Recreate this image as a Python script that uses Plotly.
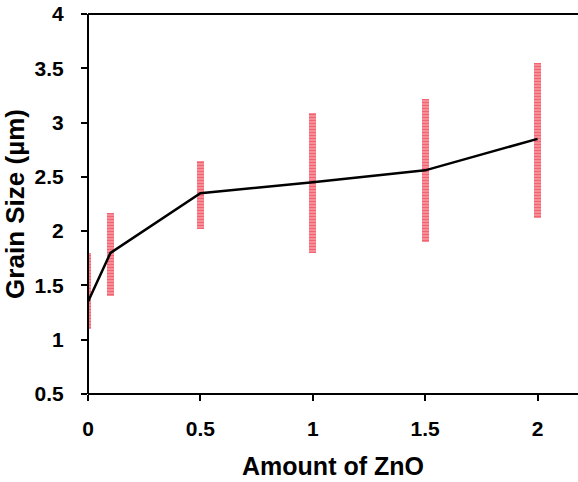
import plotly.graph_objects as go

amount_zno = [0, 0.1, 0.5, 1, 1.5, 2]
grain_size = [1.35, 1.8, 2.35, 2.45, 2.56, 2.85]
range_low = [1.1, 1.4, 2.02, 1.8, 1.9, 2.12]
range_high = [1.8, 2.17, 2.65, 3.09, 3.22, 3.55]
y_ticks = [0.5, 1, 1.5, 2, 2.5, 3, 3.5, 4]
x_ticks = [0, 0.5, 1, 1.5, 2]

font_family = "Liberation Sans, Arial, sans-serif"

fig = go.Figure()
fig.add_trace(go.Bar(
    x=amount_zno,
    y=[h - l for h, l in zip(range_high, range_low)],
    base=range_low,
    width=0.03,
    marker=dict(
        color="#f79aa3",
        line=dict(width=0),
        pattern=dict(shape="-", fgcolor="#ee2e40", bgcolor="#f79aa3",
                     size=3, solidity=0.5, fillmode="overlay"),
    ),
    showlegend=False,
    hoverinfo="skip",
))
fig.add_trace(go.Scatter(
    x=amount_zno, y=grain_size, mode="lines",
    line=dict(color="black", width=2.5),
    showlegend=False,
))

# white strip to hide any edge artefact at the right border of the plot area
fig.add_shape(type="rect", xref="paper", yref="paper", x0=0.99, x1=1.02, y0=0.004, y1=0.996,
              fillcolor="white", line=dict(width=0), layer="above")
fig.add_shape(type="line", xref="paper", yref="paper", x0=0, x1=1, y0=1, y1=1,
              line=dict(color="black", width=2))
fig.add_shape(type="line", xref="paper", yref="paper", x0=0, x1=1, y0=0, y1=0,
              line=dict(color="black", width=2))
fig.add_shape(type="line", xref="paper", yref="paper", x0=0, x1=0, y0=0, y1=1,
              line=dict(color="black", width=2))

fig.update_layout(
    width=578, height=482,
    margin=dict(l=88, r=0, t=14, b=88, autoexpand=False),
    plot_bgcolor="white", paper_bgcolor="white",
    font=dict(family=font_family, color="black"),
    bargap=0,
    xaxis=dict(
        range=[0, 2.18], tickvals=x_ticks, ticktext=[str(v) for v in x_ticks],
        showgrid=False, zeroline=False,
        showline=False,
        ticks="outside", ticklen=6, tickwidth=2, tickcolor="black",
        ticklabelstandoff=10,
        tickfont=dict(size=21, family=font_family, weight="bold"),
        title=dict(text="<b>Amount of ZnO</b>", font=dict(size=25), standoff=18),
    ),
    yaxis=dict(
        range=[0.5, 4], tickvals=y_ticks, ticktext=[f"{v:g}" for v in y_ticks],
        showgrid=False, zeroline=False,
        showline=False,
        ticks="outside", ticklen=6, tickwidth=2, tickcolor="black",
        ticklabelstandoff=13,
        tickfont=dict(size=21, family=font_family, weight="bold"),
        title=dict(text="<b>Grain Size (µm)</b>", font=dict(size=26), standoff=2),
    ),
)

fig.write_html("out.html", config={"staticPlot": True})
